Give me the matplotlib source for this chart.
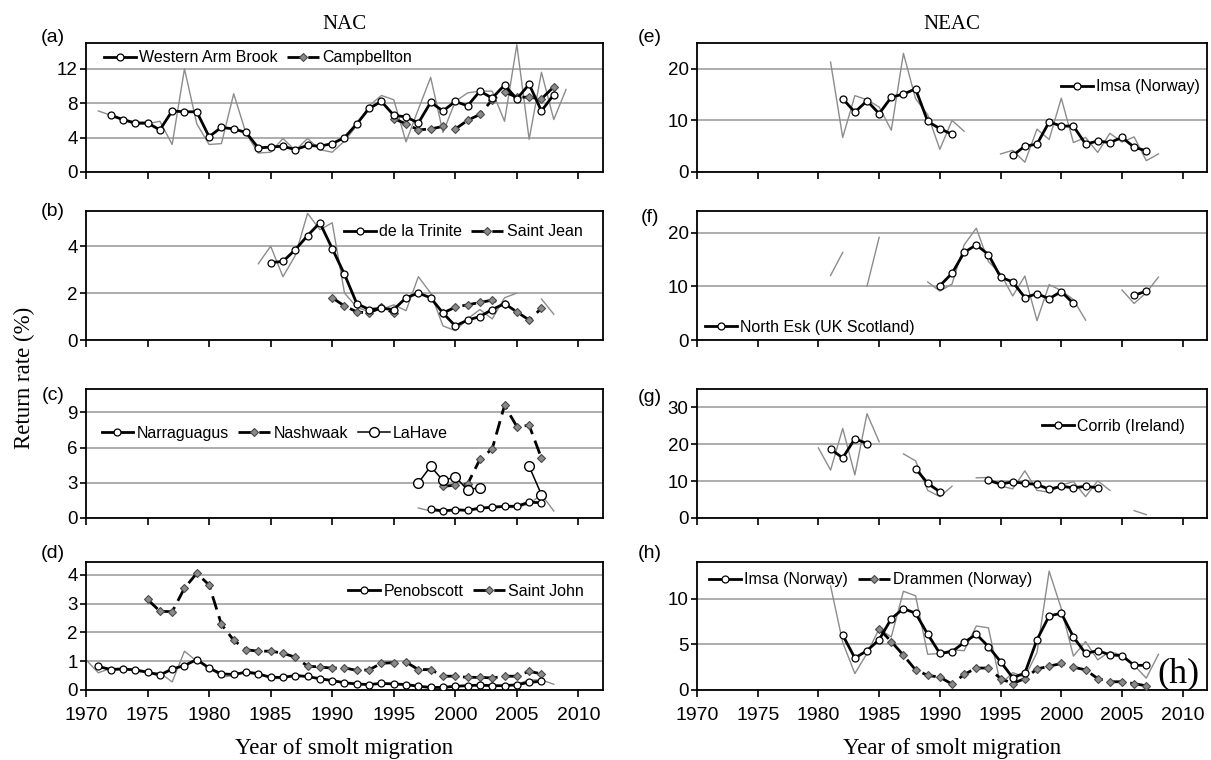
import numpy as np
import matplotlib
matplotlib.use("Agg")
import matplotlib.pyplot as plt

SANS = ["Liberation Sans", "DejaVu Sans"]
SERIF = ["Liberation Serif", "DejaVu Serif"]
plt.rcParams["font.family"] = SANS

nan = np.nan

# ---------------------------------------------------------------------------
# data (return rate %, raw annual values in grey, 3-yr means in black)
# ---------------------------------------------------------------------------

# (a) Western Arm Brook / Campbellton
wab_raw_years = np.arange(1971, 2010)
wab_raw = [7.1, 6.6, 6.1, 5.5, 5.6, 5.9, 3.2, 12.0, 5.6, 3.2, 3.3, 9.1, 4.5,
           2.2, 2.3, 3.9, 2.5, 3.9, 2.6, 2.3, 3.6, 5.4, 7.7, 8.9, 8.4, 3.5,
           7.3, 11.0, 4.6, 8.2, 9.2, 9.4, 9.4, 5.9, 14.8, 3.8, 11.6, 6.1, 9.6]
wab_years = np.arange(1972, 2009)
wab_mean = [6.6, 6.1, 5.7, 5.7, 4.9, 7.1, 7.0, 7.0, 4.1, 5.2, 5.0, 4.6, 2.8,
            2.9, 3.0, 2.6, 3.1, 3.0, 3.3, 4.0, 5.6, 7.4, 8.2, 6.6, 6.4, 5.7,
            8.1, 7.1, 8.2, 7.7, 9.4, 8.6, 10.1, 8.5, 10.2, 7.1, 9.0]
camp_years = np.arange(1995, 2009)
camp_mean = [6.2, 5.6, 4.9, 5.0, 5.3, 5.0, 6.0, 6.7, 8.4, 9.3, 8.7, 8.7,
             8.5, 9.9]

# (b) de la Trinite / Saint Jean
dlt_raw_years = np.arange(1984, 2006)
dlt_raw = [3.25, 4.0, 2.7, 3.6, 5.4, 4.7, 5.0, 2.0, 1.4, 1.2, 1.3, 1.5, 1.25,
           2.7, 2.0, 0.6, 0.4, 0.9, 1.3, 0.9, 1.8, 2.0]
dlt_years = np.arange(1985, 2005)
dlt_mean = [3.3, 3.35, 3.85, 4.45, 5.0, 3.9, 2.8, 1.55, 1.3, 1.35, 1.3, 1.8,
            2.0, 1.8, 1.15, 0.6, 0.85, 1.0, 1.3, 1.55]
sj_years = np.arange(1990, 2008)
sj_mean = [1.8, 1.45, 1.2, 1.15, 1.4, 1.15, nan, nan, nan, 1.15, 1.4, 1.5,
           1.6, 1.7, 1.55, 1.2, 0.85, 1.35]
sj_raw_years = [2007, 2008]
sj_raw = [1.75, 1.1]

# (c) Narraguagus / Nashwaak / LaHave
narr_raw_years = np.arange(1997, 2009)
narr_raw = [0.85, 0.6, 0.6, 0.75, 0.7, 0.7, 1.1, 0.9, 0.9, 1.2, 2.0, 0.6]
narr_years = np.arange(1998, 2008)
narr_mean = [0.75, 0.6, 0.7, 0.65, 0.85, 0.9, 1.0, 1.0, 1.35, 1.3]
nash_years = np.arange(1999, 2008)
nash_mean = [2.7, 2.8, 2.9, 5.0, 5.9, 9.6, 7.8, 7.9, 5.1]
lah_years = np.arange(1997, 2008)
lah_mean = [3.0, 4.4, 3.2, 3.5, 2.4, 2.6, nan, nan, nan, 4.4, 2.0]

# (d) Penobscott / Saint John
pen_raw_years = np.arange(1970, 2009)
pen_raw = [1.05, 0.6, 0.75, 0.75, 0.65, 0.6, 0.6, 0.28, 1.35, 1.0, 0.8, 0.45,
           0.5, 0.65, 0.6, 0.4, 0.4, 0.55, 0.45, 0.4, 0.3, 0.25, 0.2, 0.17,
           0.25, 0.2, 0.18, 0.1, 0.08, 0.1, 0.15, 0.15, 0.2, 0.12, 0.15, 0.2,
           0.35, 0.35, 0.2]
pen_years = np.arange(1971, 2008)
pen_mean = [0.82, 0.71, 0.73, 0.70, 0.62, 0.52, 0.73, 0.85, 1.06, 0.76, 0.56,
            0.54, 0.62, 0.56, 0.44, 0.44, 0.50, 0.47, 0.39, 0.33, 0.25, 0.21,
            0.19, 0.23, 0.21, 0.19, 0.13, 0.09, 0.09, 0.13, 0.15, 0.17, 0.15,
            0.15, 0.18, 0.27, 0.30]
stj_years = np.arange(1975, 2008)
stj_mean = [3.15, 2.74, 2.72, 3.54, 4.06, 3.65, 2.28, 1.73, 1.40, 1.35, 1.35,
            1.28, 1.14, 0.83, 0.80, 0.76, 0.77, 0.68, 0.70, 0.93, 0.95, 0.97,
            0.71, 0.71, 0.48, 0.48, 0.44, 0.44, 0.42, 0.48, 0.48, 0.65, 0.56]

# (e) Imsa
imsa_e_raw_years = np.arange(1981, 2009)
imsa_e_raw = [21.3, 6.7, 14.8, 14.0, 12.6, 8.1, 23.0, 14.2, 11.1, 4.4, 10.0,
              7.9, nan, nan, 3.5, 4.2, 1.9, 8.3, 6.3, 14.3, 5.7, 6.7, 3.8, 7.5,
              5.8, 6.8, 2.2, 3.5]
imsa_e_years = np.arange(1982, 2008)
imsa_e_mean = [14.2, 11.6, 13.8, 11.3, 14.5, 15.1, 16.1, 9.8, 8.4, 7.3, nan,
               nan, nan, nan, 3.2, 5.0, 5.4, 9.7, 8.9, 8.9, 5.4, 6.0, 5.7, 6.7,
               4.8, 4.1]

# (f) North Esk
ne_raw_years = np.arange(1981, 2009)
ne_raw = [12.0, 16.3, nan, 10.0, 19.1, nan, nan, nan, 10.8, 9.1, 10.4, 17.7,
          20.8, 14.6, 12.3, 8.2, 11.9, 3.6, 10.3, 9.2, 7.5, 3.7, nan, nan, 9.3,
          6.8, 8.8, 11.7]
ne_years = np.arange(1990, 2008)
ne_mean = [10.1, 12.4, 16.3, 17.7, 15.9, 11.7, 10.8, 7.9, 8.6, 7.7, 9.0, 6.8,
           nan, nan, nan, nan, 8.3, 9.1]

# (g) Corrib
cor_raw_years = np.arange(1980, 2008)
cor_raw = [19.0, 13.0, 24.3, 11.7, 28.3, 20.7, nan, 17.4, 15.5, 7.5, 5.8, 8.6,
           nan, 10.9, 11.0, 8.7, 7.9, 12.8, 7.5, 7.0, 8.9, 9.9, 5.8, 10.1, 7.5,
           nan, 2.0, 0.9]
cor_years = np.arange(1981, 2004)
cor_mean = [18.7, 16.3, 21.5, 20.2, nan, nan, nan, 13.4, 9.4, 7.1, nan, nan,
            nan, 10.2, 9.2, 9.8, 9.4, 9.1, 7.8, 8.6, 8.2, 8.6, 8.2]

# (h) Imsa / Drammen
imsa_h_raw_years = np.arange(1981, 2009)
imsa_h_raw = [11.4, 5.2, 1.8, 4.0, 6.7, 5.8, 10.8, 10.3, 3.9, 4.0, 4.4, 4.3,
              7.0, 6.8, 0.6, 1.9, 1.4, 4.1, 13.0, 8.9, 3.7, 5.3, 3.3, 4.2, 3.8,
              2.7, 1.3, 3.9]
imsa_h_years = np.arange(1982, 2008)
imsa_h_mean = [6.0, 3.5, 4.3, 5.5, 7.8, 8.9, 8.4, 6.1, 4.0, 4.2, 5.2, 6.1,
               4.75, 3.1, 1.35, 1.85, 5.5, 8.1, 8.4, 5.8, 4.0, 4.3, 3.85, 3.75,
               2.7, 2.7]
dram_years = np.arange(1985, 2008)
dram_mean = [6.7, 5.3, 3.8, 2.2, 1.6, 1.4, 0.65, 1.7, 2.4, 2.4, 1.25, 0.7,
             1.25, 2.3, 2.6, 2.9, 2.5, 2.2, 1.25, 0.9, 0.9, 0.7, 0.45]

# ---------------------------------------------------------------------------
# styles
# ---------------------------------------------------------------------------
RAW = dict(color="#8c8c8c", lw=1.0, zorder=2)
MEAN1 = dict(color="black", lw=2.0, marker="o", ms=5, mfc="white",
             mec="black", mew=0.9, zorder=4)
MEAN2 = dict(color="black", lw=2.0, ls=(0, (5, 2.5)), marker="D", ms=4.5,
             mfc="#8a8a8a", mec="#4a4a4a", mew=0.8, zorder=3)
THIN = dict(color="black", lw=1.1, marker="o", ms=7, mfc="white",
            mec="black", mew=1.0, zorder=3)

W, H = 1211, 760
COLS = [(86, 603), (697, 1207)]
ROWS = [(43, 172), (211, 340), (389, 518), (562, 690)]
LABEL_X = [53, 650]

fig = plt.figure(figsize=(W / 100, H / 100), dpi=100)


def make_ax(col, row, ylim, yticks, label, label_y, bottom=False):
    x0, x1 = COLS[col]
    top, bot = ROWS[row]
    ax = fig.add_axes([x0 / W, 1 - bot / H, (x1 - x0) / W, (bot - top) / H])
    ax.set_xlim(1970, 2012)
    ax.set_ylim(*ylim)
    ax.set_xticks(range(1970, 2011, 5))
    ax.set_yticks(yticks)
    ax.yaxis.grid(True, color="#a0a0a0", lw=1.2)
    ax.set_axisbelow(True)
    for s in ax.spines.values():
        s.set_linewidth(1.3)
    ax.tick_params(axis="x", direction="out", length=5, width=1.2,
                   labelsize=14, pad=7, labelbottom=bottom)
    ax.tick_params(axis="y", direction="out", length=4, width=1.2,
                   labelsize=13.5, pad=2)
    fig.text(LABEL_X[col] / W, 1 - label_y / H, label, fontsize=14,
             ha="center", va="center")
    return ax


def legend(ax, loc, anchor, ncol, handles=None, labels=None):
    if handles is None:
        handles, labels = ax.get_legend_handles_labels()
    ax.legend(handles, labels, loc=loc, bbox_to_anchor=anchor, ncol=ncol,
              frameon=False, fontsize=11.5, handlelength=2.0,
              handletextpad=0.2, columnspacing=0.6, borderpad=0,
              borderaxespad=0, numpoints=1)


# (a)
ax = make_ax(0, 0, (0, 15), [0, 4, 8, 12], "(a)", 38)
ax.plot(wab_raw_years, wab_raw, **RAW)
ax.plot(camp_years, camp_mean, label="Campbellton", **MEAN2)
ax.plot(wab_years, wab_mean, label="Western Arm Brook", **MEAN1)
h, l = ax.get_legend_handles_labels()
legend(ax, "center left", (0.035, 0.885), 2, h[::-1], l[::-1])
ax.set_title("NAC", fontsize=15, family=SERIF, pad=10)

# (b)
ax = make_ax(0, 1, (0, 5.5), [0, 2, 4], "(b)", 212)
ax.plot(dlt_raw_years, dlt_raw, **RAW)
ax.plot(sj_raw_years, sj_raw, **RAW)
ax.plot(dlt_years, dlt_mean, label="de la Trinite", **MEAN1)
ax.plot(sj_years, sj_mean, label="Saint Jean", **MEAN2)
legend(ax, "center right", (0.96, 0.84), 2)

# (c)
ax = make_ax(0, 2, (0, 11), [0, 3, 6, 9], "(c)", 395)
ax.plot(narr_raw_years, narr_raw, **RAW)
ax.plot(narr_years, narr_mean, label="Narraguagus", **MEAN1)
ax.plot(nash_years, nash_mean, label="Nashwaak", **MEAN2)
ax.plot(lah_years, lah_mean, label="LaHave", **THIN)
legend(ax, "center left", (0.03, 0.655), 3)

# (d)
ax = make_ax(0, 3, (0, 4.45), [0, 1, 2, 3, 4], "(d)", 553, bottom=True)
ax.plot(pen_raw_years, pen_raw, **RAW)
ax.plot(pen_years, pen_mean, label="Penobscott", **MEAN1)
ax.plot(stj_years, stj_mean, label="Saint John", **MEAN2)
legend(ax, "center right", (0.963, 0.77), 2)
ax.set_xlabel("Year of smolt migration", fontsize=16.5, family=SERIF,
              labelpad=10)

# (e)
ax = make_ax(1, 0, (0, 25), [0, 10, 20], "(e)", 38)
ax.plot(imsa_e_raw_years, imsa_e_raw, **RAW)
ax.plot(imsa_e_years, imsa_e_mean, label="Imsa (Norway)", **MEAN1)
legend(ax, "center right", (0.986, 0.66), 1)
ax.set_title("NEAC", fontsize=15, family=SERIF, pad=10)

# (f)
ax = make_ax(1, 1, (0, 24), [0, 10, 20], "(f)", 217)
ax.plot(ne_raw_years, ne_raw, **RAW)
ax.plot(ne_years, ne_mean, label="North Esk (UK Scotland)", **MEAN1)
legend(ax, "center left", (0.016, 0.1), 1)

# (g)
ax = make_ax(1, 2, (0, 35), [0, 10, 20, 30], "(g)", 397)
ax.plot(cor_raw_years, cor_raw, **RAW)
ax.plot(cor_years, cor_mean, label="Corrib (Ireland)", **MEAN1)
legend(ax, "center right", (0.957, 0.71), 1)

# (h)
ax = make_ax(1, 3, (0, 14), [0, 5, 10], "(h)", 553, bottom=True)
ax.plot(imsa_h_raw_years, imsa_h_raw, **RAW)
ax.plot(imsa_h_years, imsa_h_mean, label="Imsa (Norway)", **MEAN1)
ax.plot(dram_years, dram_mean, label="Drammen (Norway)", **MEAN2)
legend(ax, "center left", (0.024, 0.86), 2)
ax.set_xlabel("Year of smolt migration", fontsize=16.5, family=SERIF,
              labelpad=10)
ax.text(0.985, 0.13, "(h)", transform=ax.transAxes, fontsize=26,
        family=SERIF, ha="right", va="center")

fig.text(24 / W, 1 - 378 / H, "Return rate (%)", rotation=90, fontsize=16.5,
         family=SERIF, ha="center", va="center")

fig.savefig("out.png", dpi=100)
